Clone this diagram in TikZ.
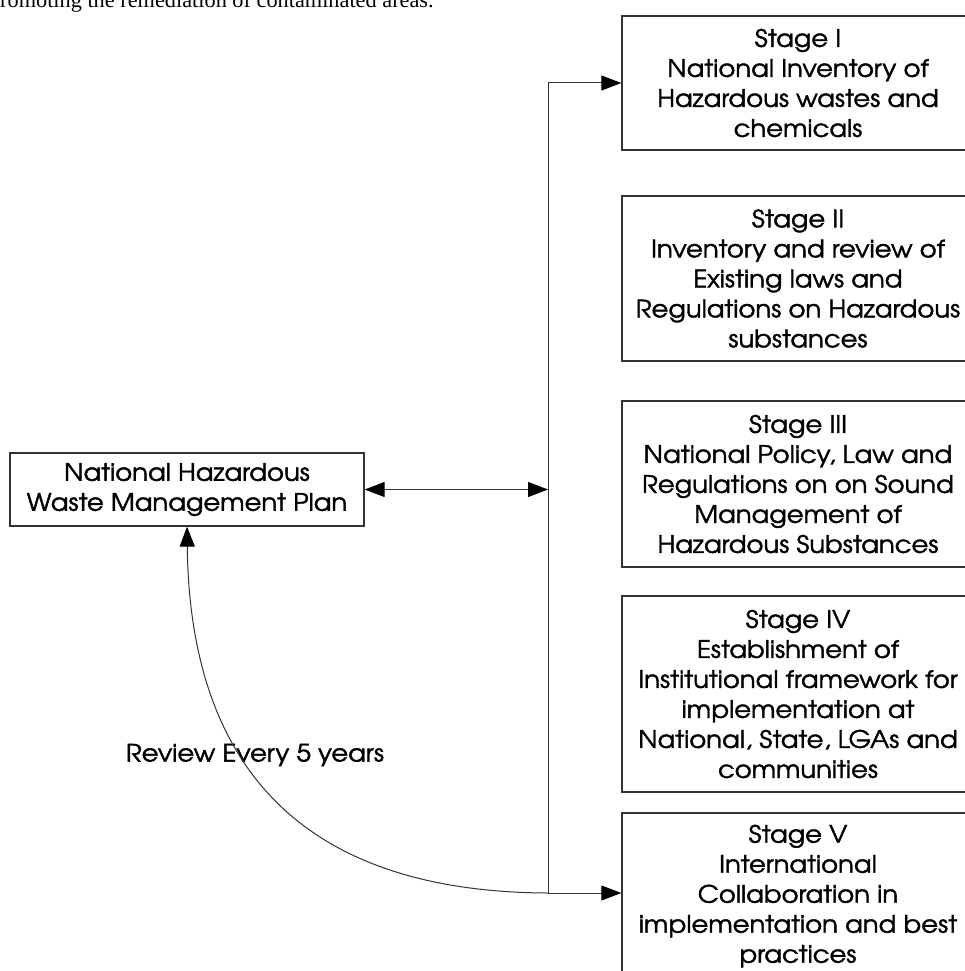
\documentclass[tikz,border=0pt]{standalone}
\usepackage{fontspec}
\setmainfont{Liberation Serif}
\newfontfamily\adv[FakeStretch=1.08,FakeBold=1.6]{TeX Gyre Adventor}
\usetikzlibrary{arrows.meta}
\definecolor{linegray}{HTML}{333333}
\tikzset{
  stagebox/.style={draw=linegray, line width=1.3pt, align=center, inner sep=0pt,
    font=\adv\fontsize{24}{30}\selectfont, text=black},
  conn/.style={draw=linegray, line width=1pt},
  tip/.style={-{Triangle[length=20pt,width=15pt,color=black]}},
  labeltext/.style={font=\adv\fontsize{24}{30}\selectfont, text=black},
}
\begin{document}
\begin{tikzpicture}[x=1pt,y=-1pt]
\useasboundingbox (0,0) rectangle (964,971);
\node[anchor=base west, inner sep=0pt, font=\fontsize{22.3}{24}\selectfont] (top) at (0,8) {romoting the remediation of contaminated areas.};
\node[stagebox, minimum width=354pt, minimum height=73pt] (plan) at (187,489.5) {National Hazardous\\Waste Management Plan};
\node[stagebox, minimum width=352pt, minimum height=134pt] (s1) at (798,83) {Stage I\\National Inventory of\\Hazardous wastes and\\chemicals};
\node[stagebox, minimum width=352pt, minimum height=165pt] (s2) at (798,278.5) {Stage II\\Inventory and review of\\Existing laws and\\Regulations on Hazardous\\substances};
\node[stagebox, minimum width=352pt, minimum height=166pt] (s3) at (798,484) {Stage III\\National Policy, Law and\\Regulations on on Sound\\Management of\\Hazardous Substances};
\node[stagebox, minimum width=352pt, minimum height=196pt] (s4) at (798,694) {Stage IV\\Establishment of\\Institutional framework for\\implementation at\\National, State, LGAs and\\communities};
\node[stagebox, minimum width=352pt, minimum height=166pt] (s5) at (798,896) {Stage V\\International\\Collaboration in\\implementation and best\\practices};
\node[labeltext] (review) at (255,755) {Review Every 5 years};
\coordinate (spineTop) at (548,83);
\coordinate (spineBot) at (548,893);
\draw[conn] (spineTop) -- (spineBot);
\draw[conn, tip] (spineTop) -- (spineTop -| s1.west);
\draw[conn, tip] (spineBot) -- (spineBot -| s5.west);
\draw[conn, {Triangle[length=20pt,width=15pt,color=black]}-{Triangle[length=20pt,width=15pt,color=black]}] (plan.east) -- (plan.east -| spineTop);
\draw[conn, tip] (spineBot) .. controls (310,892) and (190,775) .. (plan.south);
\end{tikzpicture}
\end{document}
